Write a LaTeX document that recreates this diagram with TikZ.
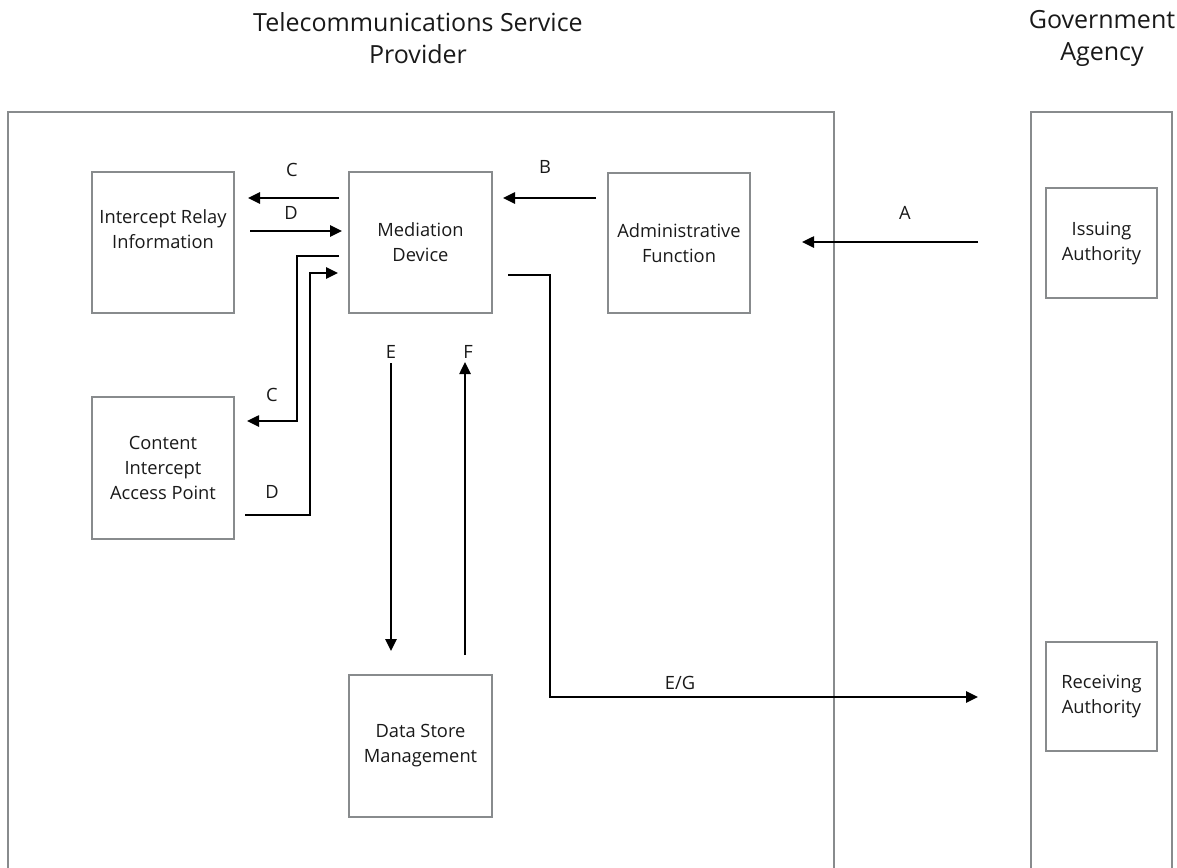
\documentclass[tikz,border=0pt]{standalone}
\usepackage{fontspec}
\setmainfont{Open Sans}
\usetikzlibrary{arrows.meta}
\definecolor{boxgray}{RGB}{136,139,141}
\definecolor{txt}{RGB}{25,25,25}
\begin{document}
\begin{tikzpicture}[x=1pt,y=-1pt,
 box/.style={draw=boxgray, line width=2.5pt, align=center, text=txt, font=\fontsize{18.3}{25}\selectfont, inner sep=0pt},
 lbl/.style={font=\fontsize{18.3}{25}\selectfont, text=txt, inner sep=0pt, align=center},
 ttl/.style={font=\fontsize{25}{32}\selectfont, text=txt, align=center, inner sep=0pt},
 arr/.style={line width=2.5pt, -{Triangle[length=12pt,width=11pt]}},
 frame/.style={draw=boxgray, line width=2.5pt}]
\useasboundingbox (0,0) rectangle (1177,867);
% frames
\draw[frame] (8,870) -- (8,112) -- (834,112) -- (834,870);
\draw[frame] (1031,870) -- (1031,112) -- (1172,112) -- (1172,870);
% titles
\node[ttl] (tsp) at (418,38) {Telecommunications Service\\Provider};
\node[ttl] (gov) at (1102,38) {Government\\Agency};
% boxes
\node[box, minimum width=142pt, minimum height=141pt, label={[lbl, yshift=13pt]center:Intercept Relay\\Information}] (iri) at (163,242.5) {};
\node[box, minimum width=143pt, minimum height=141pt] (med) at (420.5,242.5) {Mediation\\Device};
\node[box, minimum width=142pt, minimum height=140pt] (adm) at (679,243) {Administrative\\Function};
\node[box, minimum width=142pt, minimum height=142pt] (ciap) at (163,468) {Content\\Intercept\\Access Point};
\node[box, minimum width=143pt, minimum height=142pt] (dsm) at (420.5,746) {Data Store\\Management};
\node[box, minimum width=111pt, minimum height=110pt] (iss) at (1101.5,243) {Issuing\\Authority};
\node[box, minimum width=111pt, minimum height=109pt] (rec) at (1101.5,696.5) {Receiving\\Authority};
% connector end points
\coordinate (c1s) at (339,198); \coordinate (c1e) at (248,198);
\coordinate (d1s) at (250,231); \coordinate (d1e) at (342,231);
\coordinate (c2s) at (339,256); \coordinate (c2e) at (247,421);
\coordinate (d2s) at (245,515); \coordinate (d2e) at (338,273);
\coordinate (es) at (391,363); \coordinate (ee) at (391,651);
\coordinate (fs) at (465,655); \coordinate (fe) at (465,362);
\coordinate (bs) at (596,198); \coordinate (be) at (503,198);
\coordinate (as) at (978,242); \coordinate (ae) at (802,242);
\coordinate (gs) at (508,275); \coordinate (ge) at (978,697);
% connectors
\draw[arr] (c1s) -- (c1e);
\draw[arr] (d1s) -- (d1e);
\draw[arr] (c2s) -- (297,256) -- (297,421) -- (c2e);
\draw[arr] (d2s) -- (310,515) -- (310,273) -- (d2e);
\draw[arr] (es) -- (ee);
\draw[arr] (fs) -- (fe);
\draw[arr] (bs) -- (be);
\draw[arr] (as) -- (ae);
\draw[arr] (gs) -- (550,275) -- (550,697) -- (ge);
% labels
\node[lbl] (lc1) at (292,170) {C};
\node[lbl] (ld1) at (291,213) {D};
\node[lbl] (lc2) at (272,395) {C};
\node[lbl] (ld2) at (272,492) {D};
\node[lbl] (le) at (391,352) {E};
\node[lbl] (lf) at (468,352) {F};
\node[lbl] (lb) at (545,167) {B};
\node[lbl] (la) at (905,213) {A};
\node[lbl] (leg) at (680,683) {E/G};
\end{tikzpicture}
\end{document}
